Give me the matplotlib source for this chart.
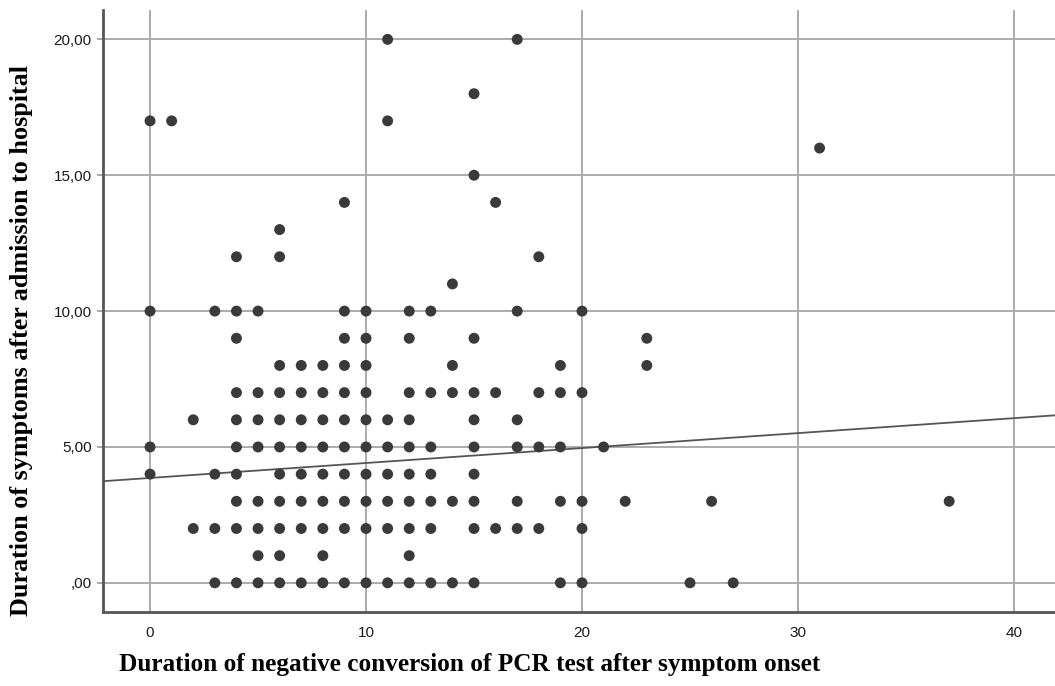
import numpy as np
import matplotlib
matplotlib.use('Agg')
import matplotlib.pyplot as plt
from matplotlib.ticker import FuncFormatter

# duration of symptoms after admission (y) -> list of PCR conversion durations (x)
y_levels = [0, 1, 2, 3, 4, 5, 6, 7, 8, 9, 10, 11, 12, 13, 14, 15, 16, 17, 18, 20]
x_at_level = [
    [3, 4, 5, 6, 7, 8, 9, 10, 11, 12, 13, 14, 15, 19, 20, 25, 27],
    [5, 6, 8, 12],
    [2, 3, 4, 5, 6, 7, 8, 9, 10, 11, 12, 13, 15, 16, 17, 18, 20],
    [4, 5, 6, 7, 8, 9, 10, 11, 12, 13, 14, 15, 17, 19, 20, 22, 26, 37],
    [0, 3, 4, 6, 7, 8, 9, 10, 11, 12, 13, 15],
    [0, 4, 5, 6, 7, 8, 9, 10, 11, 12, 13, 15, 17, 18, 19, 21],
    [2, 4, 5, 6, 7, 8, 9, 10, 11, 12, 15, 17],
    [4, 5, 6, 7, 8, 9, 10, 12, 13, 14, 15, 16, 18, 19, 20],
    [6, 7, 8, 9, 10, 14, 19, 23],
    [4, 9, 10, 12, 15, 23],
    [0, 3, 4, 5, 9, 10, 12, 13, 17, 20],
    [14],
    [4, 6, 18],
    [6],
    [9, 16],
    [15],
    [31],
    [0, 1, 11],
    [15],
    [11, 17],
]

# fit line as shown in the figure (overlapping cases are hidden in the scatter)
fit_intercept = 3.86
fit_slope = 0.055

x_ticks = [0, 10, 20, 30, 40]
y_ticks = [0, 5, 10, 15, 20]

x_vals = np.array([x for xs in x_at_level for x in xs], dtype=float)
y_vals = np.array([y for y, xs in zip(y_levels, x_at_level) for _ in xs], dtype=float)

fig = plt.figure(figsize=(10.55, 6.86), dpi=100)
ax = fig.add_axes([0.0976, 0.108, 0.9024, 0.877])

xmin, xmax = -2.18, 41.9
ax.set_xlim(xmin, xmax)
ax.set_ylim(-1.07, 21.07)

ax.grid(True, color='#ababab', linewidth=1.4)
ax.set_axisbelow(True)

ax.scatter(x_vals, y_vals, s=62, color='#3a3a3a', edgecolors='none', zorder=3)

line_x = np.array([xmin, xmax])
ax.plot(line_x, fit_intercept + fit_slope * line_x, color='#555555', linewidth=1.3, zorder=2)

ax.set_xticks(x_ticks)
ax.set_yticks(y_ticks)
ax.yaxis.set_major_formatter(FuncFormatter(lambda v, p: ',00' if v == 0 else f'{int(v)},00'))
ax.tick_params(labelsize=11, labelcolor='#1a1a1a', color='#999999')
ax.tick_params(axis='x', length=0, pad=10)
ax.tick_params(axis='y', length=4, width=1.2, pad=4)
for lab in ax.get_xticklabels() + ax.get_yticklabels():
    lab.set_family('Liberation Sans')

for side in ('top', 'right'):
    ax.spines[side].set_visible(False)
for side in ('left', 'bottom'):
    ax.spines[side].set_color('#555555')
    ax.spines[side].set_linewidth(2)

fig.text(0.4455, 0.032, 'Duration of negative conversion of PCR test after symptom onset',
         ha='center', va='center', fontsize=18.2, fontweight='bold', family='Liberation Serif')
fig.text(0.02, 0.504, 'Duration of symptoms after admission to hospital',
         ha='center', va='center', rotation=90, fontsize=18.8, fontweight='bold', family='Liberation Serif')

fig.savefig('out.png', dpi=100)
